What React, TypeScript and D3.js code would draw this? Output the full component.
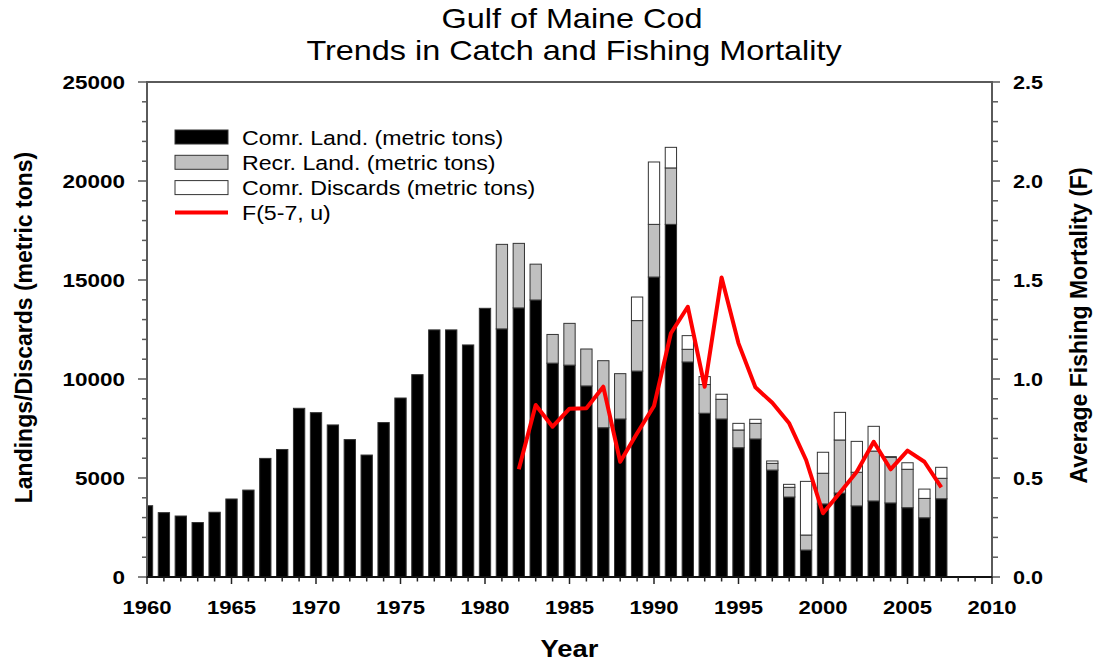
import React from "react";
import * as d3 from "d3";

const years = d3.range(1960, 2008);
const comLand = [3600, 3250, 3080, 2750, 3270, 3940, 4390, 5990, 6440, 8520, 8300, 7680, 6940, 6160, 7800, 9040, 10220, 12480, 12480, 11720, 13570, 12530, 13590, 13990, 10800, 10700, 9650, 7540, 7980, 10400, 15150, 17810, 10860, 8270, 7980, 6530, 6970, 5400, 4040, 1360, 3690, 4240, 3590, 3840, 3740, 3500, 2990, 3950];
const recLand = [0, 0, 0, 0, 0, 0, 0, 0, 0, 0, 0, 0, 0, 0, 0, 0, 0, 0, 0, 0, 0, 4270, 3260, 1810, 1450, 2110, 1865, 3385, 2290, 2550, 2660, 2850, 640, 1450, 995, 895, 790, 340, 490, 760, 1550, 2680, 1700, 2520, 2300, 1940, 980, 1035];
const comDisc = [0, 0, 0, 0, 0, 0, 0, 0, 0, 0, 0, 0, 0, 0, 0, 0, 0, 0, 0, 0, 0, 0, 0, 0, 0, 0, 0, 0, 0, 1190, 3150, 1040, 690, 400, 255, 335, 205, 120, 150, 2710, 1060, 1395, 1560, 1250, 40, 330, 470, 555];
const fYears = d3.range(1982, 2008);
const fValues = [0.544, 0.869, 0.759, 0.850, 0.852, 0.961, 0.582, 0.726, 0.864, 1.231, 1.365, 0.961, 1.513, 1.180, 0.958, 0.880, 0.776, 0.591, 0.322, 0.426, 0.532, 0.683, 0.544, 0.638, 0.582, 0.453];
const leftTicks = [0, 5000, 10000, 15000, 20000, 25000];
const rightTicks = [0, 0.5, 1.0, 1.5, 2.0, 2.5];
const xTicks = [1960, 1965, 1970, 1975, 1980, 1985, 1990, 1995, 2000, 2005, 2010];
const legendItems = ["Comr. Land. (metric tons)", "Recr. Land. (metric tons)", "Comr. Discards (metric tons)", "F(5-7, u)"];

const W = 1094, H = 661;
const L = 147, R = 992, T = 82, B = 577;
const FONT = "'Liberation Sans', Arial, sans-serif";

export default function App() {
  const x = d3.scaleLinear().domain([1960, 2010]).range([L, R]);
  const y = d3.scaleLinear().domain([0, 25000]).range([B, T]);
  const yR = d3.scaleLinear().domain([0, 2.5]).range([B, T]);
  const bw = (x(1961) - x(1960)) * 0.67;

  const stacks = years.map((yr, i) => {
    const c = comLand[i], r = recLand[i], d = comDisc[i];
    return { yr, segs: [
      { y0: 0, y1: c, fill: "#000000" },
      { y0: c, y1: c + r, fill: "#c0c0c0" },
      { y0: c + r, y1: c + r + d, fill: "#ffffff" },
    ] };
  });

  const line = d3.line<number>().x((_, i) => x(fYears[i])).y((v) => yR(v));

  const minorY = d3.range(0, 25001, 1000);
  const minorR = d3.range(0, 2.51, 0.1);
  const minorX = d3.range(1960, 2011, 1);
  const axisGray = "#5a5a5a";

  const stretch = (tx: number, ty: number, sx: number) => `translate(${tx},${ty}) scale(${sx},1)`;

  return (
    <svg width={W} height={H} style={{ position: "absolute", left: 0, top: 0, background: "#fff" }} fontFamily={FONT}>
      <defs>
        <clipPath id="plot"><rect x={L} y={T} width={R - L} height={B - T} /></clipPath>
      </defs>
      <rect x={0} y={0} width={W} height={H} fill="#fff" />
      {/* title */}
      <text transform={stretch(572, 28, 1.2)} textAnchor="middle" fontSize={27}>Gulf of Maine Cod</text>
      <text transform={stretch(574, 60, 1.2)} textAnchor="middle" fontSize={27}>Trends in Catch and Fishing Mortality</text>

      {/* bars */}
      <g clipPath="url(#plot)">
        {stacks.map((s) => s.segs.filter((g) => g.y1 > g.y0).map((g, j) => (
          <rect key={s.yr + "-" + j} x={x(s.yr) - bw / 2} y={y(g.y1)} width={bw} height={y(g.y0) - y(g.y1)}
            fill={g.fill} stroke="#333" strokeWidth={1} />
        )))}
        <path d={line(fValues) || ""} fill="none" stroke="#ff0000" strokeWidth={4} strokeLinejoin="round" />
      </g>

      {/* frame */}
      <line x1={L} x2={R} y1={T} y2={T} stroke={axisGray} strokeWidth={2} />
      <line x1={L} x2={L} y1={T - 1} y2={B} stroke={axisGray} strokeWidth={2} />
      <line x1={R} x2={R} y1={T - 1} y2={B + 1} stroke={axisGray} strokeWidth={2} />
      <line x1={L - 1} x2={R + 1} y1={B} y2={B} stroke="#111" strokeWidth={2} />

      {/* left ticks */}
      {minorY.map((v) => (
        <line key={"ly" + v} x1={L} x2={L - (v % 5000 === 0 ? 9 : 5)} y1={y(v)} y2={y(v)} stroke={axisGray} strokeWidth={1.5} />
      ))}
      {leftTicks.map((v) => (
        <text key={"lt" + v} transform={stretch(125, y(v) + 6.5, 1.25)} textAnchor="end" fontSize={18} fontWeight="bold">{v}</text>
      ))}
      {/* right ticks */}
      {minorR.map((v, i) => (
        <line key={"ry" + i} x1={R} x2={R + (i % 5 === 0 ? 8 : 6)} y1={yR(v)} y2={yR(v)} stroke={axisGray} strokeWidth={1.5} />
      ))}
      {rightTicks.map((v) => (
        <text key={"rt" + v} transform={stretch(1013, yR(v) + 6.5, 1.2)} textAnchor="start" fontSize={18} fontWeight="bold">{v.toFixed(1)}</text>
      ))}
      {/* bottom ticks */}
      {minorX.map((v) => (
        <line key={"bx" + v} x1={x(v)} x2={x(v)} y1={B} y2={B + (v % 5 === 0 ? 7 : 4.5)} stroke="#222" strokeWidth={1.5} />
      ))}
      {xTicks.map((v) => (
        <text key={"bt" + v} transform={stretch(x(v), 613.5, 1.23)} textAnchor="middle" fontSize={18} fontWeight="bold">{v}</text>
      ))}

      {/* axis titles */}
      <text transform={stretch(569.5, 657, 1.19)} textAnchor="middle" fontSize={23} fontWeight="bold">Year</text>
      <text transform={`translate(32,327.5) rotate(-90)`} textAnchor="middle" fontSize={23} fontWeight="bold">Landings/Discards (metric tons)</text>
      <text transform={`translate(1087,325.5) rotate(-90)`} textAnchor="middle" fontSize={23} fontWeight="bold">Average Fishing Mortality (F)</text>

      {/* legend */}
      {legendItems.map((lab, i) => {
        const cy = 137 + i * 25.3;
        return (
          <g key={lab}>
            {i < 3 ? (
              <rect x={175} y={cy - 7} width={53} height={14} fill={["#000", "#c0c0c0", "#fff"][i]} stroke="#333" strokeWidth={1} />
            ) : (
              <line x1={175} x2={228} y1={cy - 0.5} y2={cy - 0.5} stroke="#ff0000" strokeWidth={4} />
            )}
            <text transform={stretch(242, cy + 7.5, 1.13)} fontSize={20.5}>{lab}</text>
          </g>
        );
      })}
    </svg>
  );
}
